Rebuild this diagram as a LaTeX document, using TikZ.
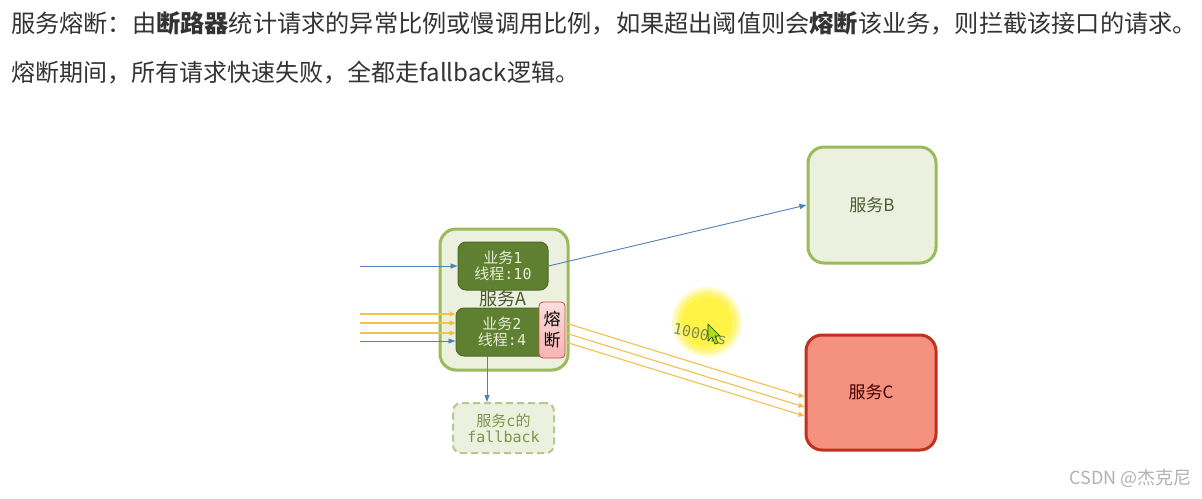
\documentclass[tikz,border=0pt]{standalone}
\usepackage{fontspec}
\setmainfont{Noto Sans CJK SC}
\newfontfamily\cjk{Noto Sans CJK SC}
\newfontfamily\mono{DejaVu Sans Mono}
\usetikzlibrary{arrows.meta}
\definecolor{txt}{HTML}{333333}
\definecolor{agreen}{HTML}{9BBB59}
\definecolor{lgreen}{HTML}{EBF1DE}
\definecolor{dgreen}{HTML}{5F8030}
\definecolor{dgreenb}{HTML}{4E6A24}
\definecolor{boxtxt}{HTML}{E6EED6}
\definecolor{fusefill}{HTML}{F8C6C6}
\definecolor{fusedraw}{HTML}{C0504D}
\definecolor{cfill}{HTML}{F4917F}
\definecolor{cdraw}{HTML}{C0321E}
\definecolor{bluel}{HTML}{4F81BD}
\definecolor{yel}{HTML}{F2C14E}
\definecolor{yeltip}{HTML}{F5A623}
\definecolor{fbdraw}{HTML}{B7C78E}
\definecolor{fbtxt}{HTML}{7C9448}
\definecolor{alabel}{HTML}{4B5A33}
\definecolor{hl}{HTML}{FFF000}
\tikzset{
  svc/.style={draw=agreen, line width=3pt, fill=lgreen, rounded corners=16pt, align=center},
  inner/.style={draw=dgreenb, line width=1pt, fill=dgreen, rounded corners=8pt, text=boxtxt, align=center, font=\fontsize{15}{18}\selectfont, inner sep=0pt},
  bl/.style={draw=bluel, line width=0.9pt, -{Triangle[length=7pt,width=5pt]}},
  yl/.style={draw=yel, line width=1.1pt, -{Triangle[length=6pt,width=5pt, fill=yeltip]}},
}
\begin{document}
\begin{tikzpicture}[x=1pt,y=-1pt]
\useasboundingbox (0,0) rectangle (1202,498);
\fill[white] (0,0) rectangle (1202,498);
% header
\node[anchor=west, text=txt, inner sep=0pt, font=\fontsize{24.2}{28}\selectfont] (h1) at (11,23)
  {服务熔断：由\textbf{断路器}统计请求的异常比例或慢调用比例，如果超出阈值则会\textbf{熔断}该业务，则拦截该接口的请求。};
\node[anchor=west, text=txt, inner sep=0pt, font=\fontsize{24}{28}\selectfont] (h2) at (11,73)
  {熔断期间，所有请求快速失败，全都走fallback逻辑。};
% service A
\node[svc, minimum width=128pt, minimum height=141pt] (A) at (504,299.5) {};
\node[inner, minimum width=90pt, minimum height=48pt] (b1) at (503,266)
  {业务{\mono 1}\\[-2pt]线程{\mono :10}};
\node[inner, minimum width=92pt, minimum height=48pt] (b2) at (502,332)
  {业务{\mono 2}\\[-2pt]线程{\mono :4}};
\node[text=alabel, font=\fontsize{18}{20}\selectfont, inner sep=0pt] (Alabel) at (503,299) {服务A};
\node[draw=fusedraw, line width=0.8pt, top color=fusefill!60!white, bottom color=fusefill!90!red, rounded corners=4pt,
  minimum width=26pt, minimum height=56pt, inner sep=0pt, align=center, font=\fontsize{17}{21}\selectfont] (fuse) at (552,330) {熔\\断};
% fallback
\node[draw=fbdraw, dashed, dash pattern=on 7pt off 4pt, line width=2pt, fill=lgreen, rounded corners=8pt,
  minimum width=101pt, minimum height=50pt, align=center, text=fbtxt, font=\fontsize{15}{18}\selectfont, inner sep=0pt] (fb) at (503.5,428)
  {服务{\mono c}的\\[-2pt]{\mono fallback}};
% services B, C
\node[svc, minimum width=128pt, minimum height=116pt, font=\fontsize{17}{20}\selectfont, text=alabel] (B) at (872,205) {服务B};
\node[draw=cdraw, line width=3pt, fill=cfill, rounded corners=16pt, minimum width=130pt, minimum height=115pt,
  font=\fontsize{17}{20}\selectfont, text=black!75!red] (C) at (871,392.5) {服务C};
% left inputs
\coordinate (in1) at (360,266);
\coordinate (iy1) at (360,314);
\coordinate (iy2) at (360,323);
\coordinate (iy3) at (360,333);
\coordinate (in2) at (360,341);
\draw[bl] (in1) -- (in1 -| b1.west);
\draw[yl] (iy1) -- (iy1 -| b2.west);
\draw[yl] (iy2) -- (iy2 -| b2.west);
\draw[yl] (iy3) -- (iy3 -| b2.west);
\draw[bl] (in2) -- (in2 -| b2.west);
% to B
\draw[bl] (b1.east) -- (B.west);
% fallback arrow
\coordinate (fbs) at (487,356);
\draw[bl] (fbs) -- (fbs |- fb.north);
% to C
\draw[yl] ([yshift=-12pt]fuse.east) -- ([yshift=-23.5pt]C.west);
\draw[yl] ([yshift=-3pt]fuse.east) -- ([yshift=-14.5pt]C.west);
\draw[yl] ([yshift=7pt]fuse.east) -- ([yshift=-4.5pt]C.west);
% pointer highlight
\foreach \r/\o in {35/0.2, 32/0.25, 29/0.3, 25/0.35} {
  \fill[hl, opacity=\o] (707,322) circle[radius=\r pt];
}
% label 1000ms
\node[rotate=-12, text=fbtxt!70!gray, font=\mono\fontsize{15}{18}\selectfont, inner sep=0pt] (ms) at (700,334) {1000ms};
\draw[draw=black!70!green, fill=yellow!70!green, line width=0.6pt, line join=round]
  (708,324) -- (708,341) -- (712,337) -- (715,344) -- (718,343) -- (715,336) -- (720,336) -- cycle;
% watermark
\node[anchor=east, text=black!30, font=\fontsize{18}{20}\selectfont, inner sep=0pt] (wm) at (1192,478) {CSDN @杰克尼};
\end{tikzpicture}
\end{document}
